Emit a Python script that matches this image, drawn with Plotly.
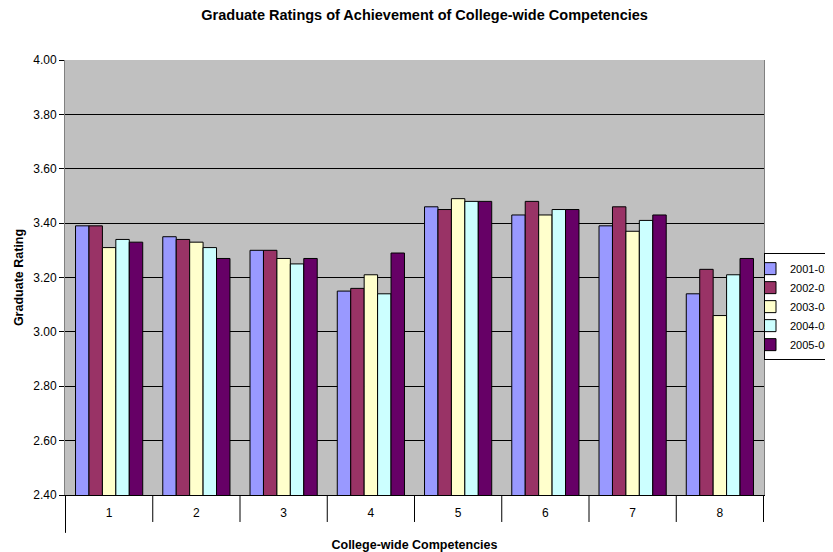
import plotly.graph_objects as go

categories = ["1", "2", "3", "4", "5", "6", "7", "8"]
series_names = ["2001-02", "2002-03", "2003-04", "2004-05", "2005-06"]
v2001 = [3.39, 3.35, 3.30, 3.15, 3.46, 3.43, 3.39, 3.14]
v2002 = [3.39, 3.34, 3.30, 3.16, 3.45, 3.48, 3.46, 3.23]
v2003 = [3.31, 3.33, 3.27, 3.21, 3.49, 3.43, 3.37, 3.06]
v2004 = [3.34, 3.31, 3.25, 3.14, 3.48, 3.45, 3.41, 3.21]
v2005 = [3.33, 3.27, 3.27, 3.29, 3.48, 3.45, 3.43, 3.27]
colors = ["#9999FF", "#993366", "#FFFFCC", "#CCFFFF", "#660066"]

FONT = "Liberation Sans, Arial, sans-serif"

fig = go.Figure()
for name, vals, col in zip(series_names, [v2001, v2002, v2003, v2004, v2005], colors):
    fig.add_trace(go.Bar(
        x=categories, y=vals, name=name,
        marker=dict(color=col, line=dict(color="black", width=1)),
    ))

# category separator ticks below the axis
shapes = []
for i in range(len(categories) + 1):
    shapes.append(dict(
        type="line", xref="x", yref="paper",
        x0=i - 0.5, x1=i - 0.5, y0=0, y1=(-0.087 if i == 0 else -0.062),
        line=dict(color="black", width=1),
    ))

# the page body has an 8px margin, so the figure is 825x544
fig.update_layout(
    width=825, height=544,
    margin=dict(l=57, r=69, t=52, b=57, autoexpand=False),
    paper_bgcolor="white",
    plot_bgcolor="#C0C0C0",
    font=dict(family=FONT, size=12, color="black"),
    title=dict(
        text="<b>Graduate Ratings of Achievement of College-wide Competencies</b>",
        x=0.505, xanchor="center", y=0.987, yanchor="middle",
        font=dict(family=FONT, size=14.5, color="black"),
    ),
    barmode="group",
    bargap=0.23,
    bargroupgap=0,
    showlegend=True,
    legend=dict(
        x=1.0, xanchor="left", y=0.556, yanchor="top",
        bordercolor="black", borderwidth=1, bgcolor="white",
        font=dict(family=FONT, size=11, color="black"),
        itemwidth=30, tracegroupgap=0, indentation=-15,
    ),
    shapes=shapes,
    xaxis=dict(
        type="category",
        showgrid=False,
        showline=True, linecolor="black", linewidth=1,
        ticks="", ticklabelstandoff=7,
        tickfont=dict(family=FONT, size=12, color="black"),
        title=dict(text="<b>College-wide Competencies</b>", standoff=20,
                   font=dict(family=FONT, size=12.5, color="black")),
    ),
    yaxis=dict(
        range=[2.4, 4.0], dtick=0.2, tick0=2.4, tickformat=".2f",
        showgrid=True, gridcolor="black", gridwidth=1,
        showline=True, linecolor="#808080", linewidth=1, mirror=True,
        ticks="outside", ticklen=5, tickcolor="black",
        tickfont=dict(family=FONT, size=12, color="black"),
        zeroline=False,
        title=dict(text="<b>Graduate Rating</b>", standoff=6,
                   font=dict(family=FONT, size=12.5, color="black")),
    ),
)

fig.write_html("out.html")
